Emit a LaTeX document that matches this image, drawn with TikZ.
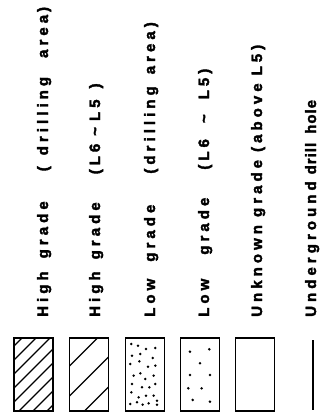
\documentclass[tikz,border=0pt]{standalone}
\usepackage{fontspec}
\setmainfont{Liberation Sans}
\newfontfamily\legfont[LetterSpace=27, BoldFeatures={FakeBold=2.5}]{Liberation Sans}
\usetikzlibrary{positioning}

\begin{document}
\begin{tikzpicture}[
x=1pt, y=-1pt,
keybox/.style={draw, line width=1.4pt, minimum width=39pt, minimum height=73pt, inner sep=0pt},
legtext/.style={rotate=90, anchor=base west, inner sep=0pt, font=\legfont\bfseries\fontsize{15}{17}\selectfont},
hatch/.style={path picture={
  \foreach \i [evaluate=\i as \d using \i*#1-80] in {0,...,12}
    \draw[line width=1.1pt] ([shift={(-5pt,\d pt)}]path picture bounding box.south west)
      -- ++(90pt,90pt);}},
dot/.style={circle, fill, inner sep=0pt, minimum size=2.8pt}
]
\useasboundingbox (0,0) rectangle (323,414);

% legend boxes
\node[keybox, hatch=14] (k1) at (33.5,374.5) {};
\node[keybox, hatch=30] (k2) at (89,374.5) {};
\node[keybox] (k3) at (145,374.5) {};
\node[keybox] (k4) at (200,374.5) {};
\node[keybox] (k5) at (255,374.5) {};
\coordinate (h1) at (313,340);
\coordinate (h2) at (313,410);
\draw[line width=1.6pt] (h1) -- (h2);

% dense dots
\begin{scope}[shift={(122,334)}, x=0.3333pt, y=-0.3333pt]
\foreach \p in {(28,30),(48,35),(72,45),(100,42),(30,65),(55,60),(92,72),(25,90),(52,82),(78,98),
  (100,95),(35,125),(55,118),(70,135),(95,125),(30,150),(60,160),(82,160),(100,150),(28,175),
  (50,190),(72,185),(95,185),(105,200),(25,210),(45,205),(62,212),(80,208),(105,212)}
  \node[dot] at \p {};
\end{scope}

% sparse dots
\begin{scope}[shift={(0,290)}, x=0.3333pt, y=-0.3333pt]
\foreach \p in {(570,185),(628,178),(600,220),(570,255),(630,255),(565,295),(605,295),(578,330),(630,335)}
  \node[dot] at \p {};
\end{scope}

% legend texts
\node[legtext] (t1) at (48,317) {High\hspace{13pt}grade\hspace{30pt}(\hspace{11pt}drilling\hspace{19pt}area\hspace{3pt})};
\node[legtext] (t2) at (100,317) {High\hspace{12pt}grade\hspace{28pt}(\hspace{4pt}L6\hspace{8pt}\textasciitilde\hspace{6pt}L5\hspace{11pt})};
\node[legtext] (t3) at (155,317) {Low\hspace{17pt}grade\hspace{31pt}(drilling\hspace{12pt}area)};
\node[legtext] (t4) at (209,317) {Low\hspace{24pt}grade\hspace{28pt}(L6\hspace{16pt}\textasciitilde\hspace{15pt}L5)};
\node[legtext] (t5) at (262,317) {Unknown\hspace{8pt}grade\hspace{8pt}(above\hspace{8pt}L5)};
\node[legtext] (t6) at (316,317) {Underground\hspace{7pt}{\addfontfeature{LetterSpace=6.7}drill\hspace{9pt}hole}};
\end{tikzpicture}
\end{document}
